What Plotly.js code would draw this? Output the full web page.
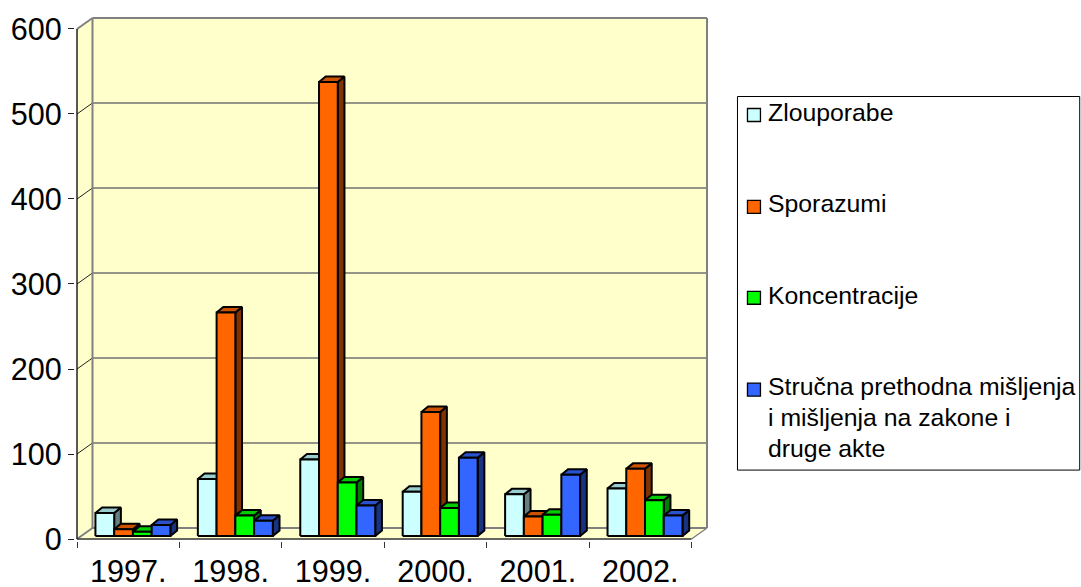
<!DOCTYPE html>
<html><head><meta charset="utf-8">
<script src="https://cdn.plot.ly/plotly-3.0.1.min.js"></script>
<style>html,body{margin:0;padding:0;background:#fff}#c{width:1081px;height:587px}</style>
</head><body><div id="c"></div>
<script>
const years = ['1997.','1998.','1999.','2000.','2001.','2002.'];
const seriesNames = ['Zlouporabe','Sporazumi','Koncentracije','Stručna prethodna mišljenja i mišljenja na zakone i druge akte'];
const zlouporabe = [27,67,90,52,49,56];
const sporazumi = [8,263,534,146,23,79];
const koncentracije = [5,24,63,33,25,42];
const strucna = [13,18,36,92,72,24];
const frontColors = ['#CCFFFF','#FF6600','#00FF00','#3366FF'];
const topColors = ['#99CCCC','#CC5200','#00CC00','#2952CC'];
const sideColors = ['#668080','#803300','#008000','#1A3380'];
const legendLines = [['Zlouporabe'],['Sporazumi'],['Koncentracije'],['Stručna prethodna mišljenja','i mišljenja na zakone i','druge akte']];
const yTicks = [0,100,200,300,400,500,600];

const allSeries = [zlouporabe,sporazumi,koncentracije,strucna];
// pixel geometry
const W=1081,H=587,pad=2,x0=76.5,y0=539.5,pxX=102.5,pxY=0.851;
const wallDX=15.5/pxX, wallDY=11/pxY, barDX=6.7/pxX, barDY=5.5/pxY;
const base=3.0/pxY, start=0.18, bw=0.183;
const xMax=6+wallDX, yMax=600+wallDY;
const m={l:x0-pad,r:W-(x0+xMax*pxX+pad),t:y0-yMax*pxY-pad,b:H-y0-pad};
const pw=W-m.l-m.r, ph=H-m.t-m.b;
const paperX=p=>(p-m.l)/pw, paperY=p=>1-(p-m.t)/ph;

const traces=[];
allSeries.forEach((vals,s)=>{
  const side={x:[],y:[]},top={x:[],y:[]},front={x:[],y:[]};
  vals.forEach((v,i)=>{
    const a=i+start+s*bw,b=a+bw,t=v+base;
    side.x.push(b,b+barDX,b+barDX,b,b,null);
    side.y.push(base,base+barDY,t+barDY,t,base,null);
    top.x.push(a,a+barDX,b+barDX,b,a,null);
    top.y.push(t,t+barDY,t+barDY,t,t,null);
    front.x.push(a,b,b,a,a,null);
    front.y.push(base,base,t,t,base,null);
  });
  [[side,sideColors[s]],[top,topColors[s]],[front,frontColors[s]]].forEach(([f,c])=>{
    traces.push({type:'scatter',mode:'lines',x:f.x,y:f.y,fill:'toself',fillcolor:c,
      line:{color:'#000',width:2,join:'miter'},name:seriesNames[s],showlegend:false,hoverinfo:'skip'});
  });
});

const G='#808080';
const shapes=[];
const poly=(pts,fill)=>shapes.push({type:'path',layer:'below',xref:'x',yref:'y',
  path:'M'+pts.map(p=>p.join(',')).join('L')+'Z',fillcolor:fill,line:{width:0}});
const seg=(a,b,c,wd)=>shapes.push({type:'line',layer:'below',xref:'x',yref:'y',x0:a[0],y0:a[1],x1:b[0],y1:b[1],line:{color:c,width:wd}});
poly([[wallDX,wallDY],[xMax,wallDY],[xMax,yMax],[wallDX,yMax]],'#FFFFCC');
poly([[0,0],[wallDX,wallDY],[wallDX,yMax],[0,600]],'#FFFFCC');
poly([[0,0],[6,0],[xMax,wallDY],[wallDX,wallDY]],'#FFFFCC');
yTicks.forEach(v=>{
  if(v>0&&v<600){seg([wallDX,v+wallDY],[xMax,v+wallDY],'#707070',1.5);seg([0,v],[wallDX,v+wallDY],'#222',1);}
});
seg([wallDX,wallDY],[xMax,wallDY],G,2);
seg([wallDX,yMax],[xMax,yMax],G,2);
seg([wallDX,wallDY],[wallDX,yMax],G,2);
seg([xMax,wallDY],[xMax,yMax],G,2);
seg([0,600],[wallDX,yMax],G,2);
seg([0,0],[wallDX,wallDY],G,2);
seg([6,0],[xMax,wallDY],G,1.5);
seg([0,0],[0,600],'#000',1.3);
seg([0,0],[6,0],'#333',1.5);

// legend
const annotations=[];
shapes.push({type:'rect',layer:'above',xref:'paper',yref:'paper',x0:paperX(737.5),x1:paperX(1080),y0:paperY(470.5),y1:paperY(96.5),fillcolor:'#fff',line:{color:'#000',width:1}});
const swatchY=[115,207,298,390], textY=[113,204,296,387], lineStep=31;
seriesNames.forEach((n,s)=>{
  shapes.push({type:'rect',layer:'above',xref:'paper',yref:'paper',x0:paperX(747.5),x1:paperX(760.5),
    y0:paperY(swatchY[s]+6.5),y1:paperY(swatchY[s]-6.5),fillcolor:frontColors[s],line:{color:'#000',width:1.3}});
  legendLines[s].forEach((t,k)=>annotations.push({xref:'paper',yref:'paper',x:paperX(767.5),y:paperY(textY[s]+k*lineStep),
    xanchor:'left',yanchor:'middle',showarrow:false,text:t,borderpad:0,font:{family:'Liberation Sans',size:24.8,color:'#000'}}));
});

Plotly.newPlot('c',traces,{
  width:W,height:H,margin:m,paper_bgcolor:'#fff',plot_bgcolor:'rgba(0,0,0,0)',showlegend:false,
  font:{family:'Liberation Sans',color:'#000'},
  xaxis:{range:[-pad/pxX,xMax+pad/pxX],tickmode:'array',tickvals:years.map((_,i)=>i+0.5),ticktext:years,ticks:'',
    tickfont:{size:30.6},showgrid:false,zeroline:false,showline:false,ticklabelstandoff:9,
    minor:{tickmode:'array',tickvals:[0,1,2,3,4,5,6],ticks:'outside',ticklen:6,tickcolor:'#333',tickwidth:1,showgrid:false}},
  yaxis:{range:[-pad/pxY,yMax+pad/pxY],tickmode:'array',tickvals:yTicks,ticktext:yTicks.map(String),ticks:'outside',ticklen:6,tickcolor:'#222',tickwidth:1,
    tickfont:{size:30.6},showgrid:false,zeroline:false,showline:false,ticklabelstandoff:0},
  shapes,annotations
},{displayModeBar:false,staticPlot:true});
</script></body></html>
